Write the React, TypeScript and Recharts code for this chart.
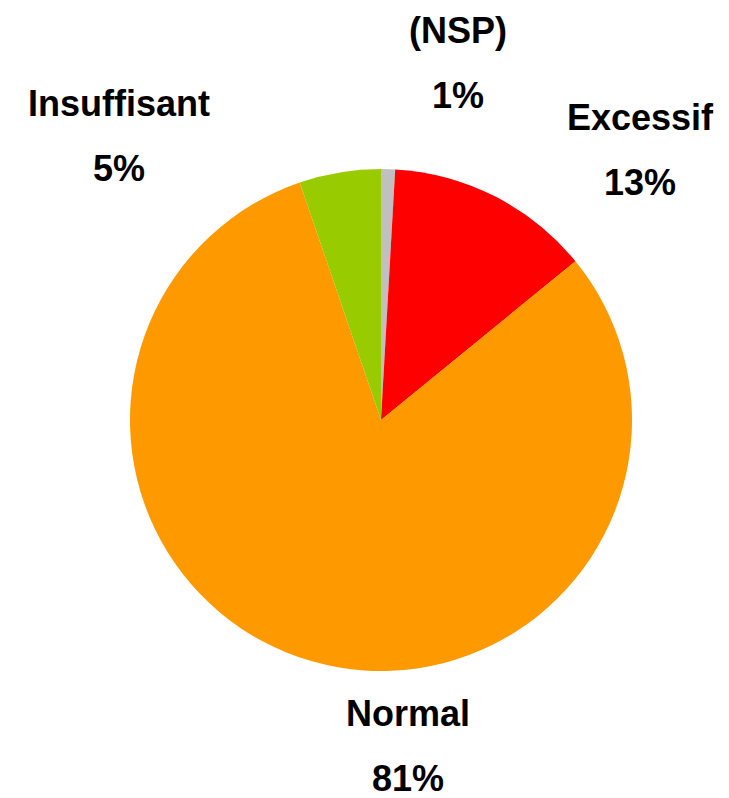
import { PieChart, Pie, Cell } from "recharts";

// slices, clockwise from 12 o'clock
const NAMES = ["(NSP)", "Excessif", "Normal", "Insuffisant"];
const VALUES = [0.9, 13.2, 80.65, 5.25];
const COLORS = ["#c0c0c0", "#ff0000", "#ff9900", "#99cc00"];

// label placement relative to the pie centre (text centre, first baseline)
const LABEL_OFFSET: Record<string, [number, number]> = {
  "(NSP)": [77, -377],
  Excessif: [259, -290],
  Normal: [27, 306],
  Insuffisant: [-262, -304],
};

const FONT = "'Liberation Sans', Arial, sans-serif";

const data = NAMES.map((name, i) => ({ name, value: VALUES[i] }));

function SliceLabel(props: any) {
  const { cx, cy, name, percent } = props;
  const [dx, dy] = LABEL_OFFSET[name] ?? [0, 0];
  const x = Number(cx) + dx;
  const y = Number(cy) + dy;
  return (
    <text
      x={x}
      y={y}
      textAnchor="middle"
      fontFamily={FONT}
      fontWeight="bold"
      fontSize={36}
      fill="#000"
    >
      <tspan x={x} y={y}>{name}</tspan>
      <tspan x={x} y={y + 65}>{`${Math.round(percent * 100)}%`}</tspan>
    </text>
  );
}

export default function App() {
  return (
    <div style={{ position: "absolute", left: 0, top: 0, background: "#fff" }}>
      <PieChart width={729} height={798} margin={{ top: 0, right: 0, bottom: 0, left: 0 }}>
        <Pie
          data={data}
          dataKey="value"
          nameKey="name"
          cx={381}
          cy={420}
          outerRadius={251}
          startAngle={90}
          endAngle={-270}
          stroke="none"
          label={SliceLabel}
          labelLine={false}
          isAnimationActive={false}
        >
          {data.map((d, i) => (
            <Cell key={d.name} fill={COLORS[i]} />
          ))}
        </Pie>
      </PieChart>
    </div>
  );
}
